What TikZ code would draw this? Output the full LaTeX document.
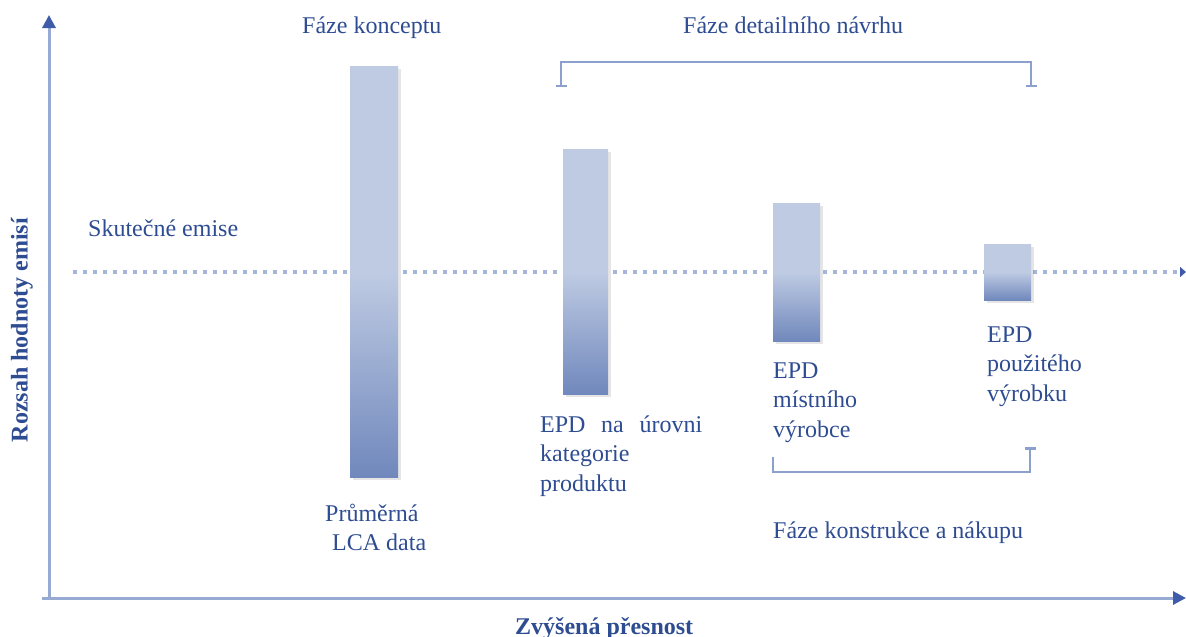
\documentclass[tikz,border=0pt]{standalone}
\usepackage{fontspec}
\setmainfont{Liberation Serif}
\usetikzlibrary{arrows.meta,shadows}
\definecolor{txtblue}{RGB}{46,76,145}
\definecolor{axisblue}{RGB}{150,170,212}
\definecolor{dotblue}{RGB}{165,182,218}
\definecolor{brkblue}{RGB}{140,160,206}
\definecolor{tipblue}{RGB}{62,92,170}
\definecolor{barlight}{RGB}{191,203,227}
\definecolor{bardark}{RGB}{112,136,188}
\tikzset{
  lbl/.style={font=\fontsize{24}{29.5}\selectfont, text=txtblue, inner sep=0pt, anchor=base west},
  axlbl/.style={font=\fontsize{24}{29.5}\selectfont\bfseries, text=txtblue, inner sep=0pt},
  axisline/.style={draw=axisblue, line width=3pt, -{Triangle[width=13pt,length=13pt,color=tipblue]}},
  dotline/.style={draw=dotblue, line width=3.5pt, dash pattern=on 4pt off 6pt, -{Triangle[width=10pt,length=6pt,color=tipblue]}},
  bracket/.style={draw=brkblue, line width=2.5pt},
  bar/.style={inner sep=0pt, outer sep=0pt, top color=barlight, bottom color=bardark, middle color=barlight,
    drop shadow={shadow xshift=3pt, shadow yshift=-3pt, fill=black, opacity=0.10}},
}
\begin{document}
\begin{tikzpicture}[x=1pt,y=-1pt]
\useasboundingbox (0,0) rectangle (1186,637);
% axes
\coordinate (origin) at (49,598);
\coordinate (ytip) at (49,15);
\coordinate (xtip) at (1186,598);
\coordinate (xstart) at (42,598);
\draw[axisline] (origin) -- (ytip);
\draw[axisline] (xstart) -- (xtip);
% dotted line
\coordinate (dstart) at (73,272);
\coordinate (dend) at (1186,272);
\draw[dotline] (dstart) -- (dend);
% bars
\node[bar, minimum width=48pt, minimum height=411pt] (b1) at (374,271.5) {};
\node[bar, minimum width=45pt, minimum height=245pt] (b2) at (585.5,271.5) {};
\node[bar, minimum width=47pt, minimum height=138pt] (b3) at (796.5,272) {};
\node[bar, minimum width=47pt, minimum height=56pt] (b4) at (1007.5,272) {};
% top bracket
\coordinate (t1) at (561,87);
\coordinate (t2) at (561,62);
\coordinate (t3) at (1031,62);
\coordinate (t4) at (1031,87);
\draw[bracket, {Bar[width=11pt,line width=2.5pt]}-{Bar[width=11pt,line width=2.5pt]}] (t1) -- (t2) -- (t3) -- (t4);
% bottom bracket
\coordinate (u1) at (773,457);
\coordinate (u2) at (773,472);
\coordinate (u3) at (1030,472);
\coordinate (u4) at (1030,447);
\draw[bracket, -{Bar[width=11pt,line width=2.5pt]}] (u1) -- (u2) -- (u3) -- (u4);
% labels
\node[lbl] (fk) at (302,33) {Fáze konceptu};
\node[lbl] (fd) at (683,33) {Fáze detailního návrhu};
\node[lbl] (se) at (88,236) {Skutečné emise};
\node[lbl] (pr) at (325,521) {Průměrná};
\node[lbl] (lca) at (332,550) {LCA data};
\node[lbl] (epd1) at (540,432) {\parbox[t]{200pt}{\raggedright\makebox[162pt][s]{EPD na úrovni}\\kategorie\\produktu}};
\node[lbl] (epd2) at (773,378) {\parbox[t]{200pt}{\raggedright EPD\\místního\\výrobce}};
\node[lbl] (epd3) at (987,342) {\parbox[t]{190pt}{\raggedright EPD\\použitého\\výrobku}};
\node[lbl] (fkn) at (773,538) {Fáze konstrukce a nákupu};
\node[axlbl, rotate=90] (ylab) at (22,330) {Rozsah hodnoty emisí};
\node[axlbl, anchor=base west] (xlab) at (515,634) {Zvýšená přesnost};
\end{tikzpicture}
\end{document}
